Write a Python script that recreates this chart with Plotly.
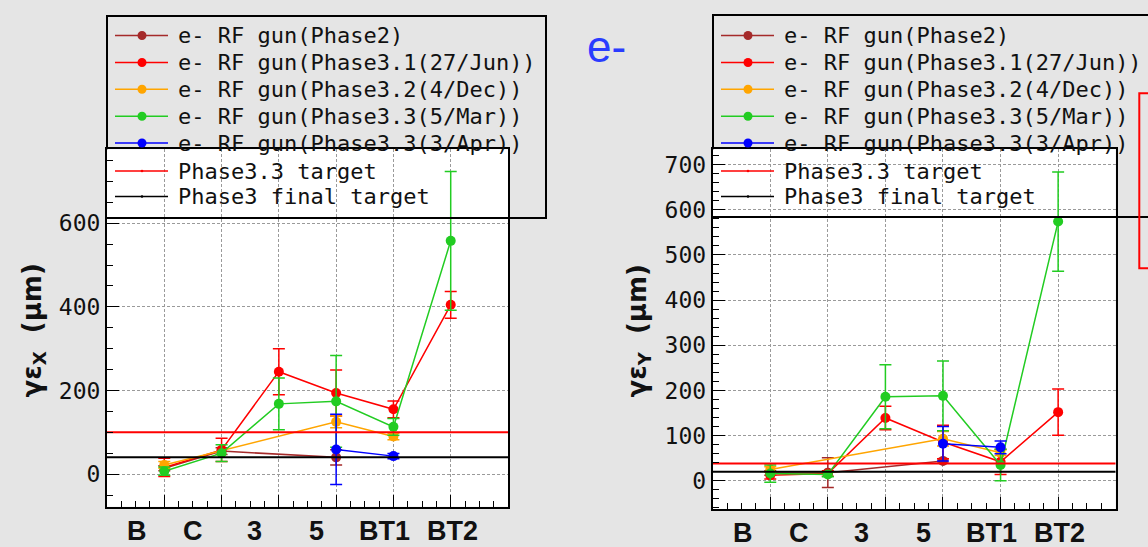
import plotly.graph_objects as go

# ---------------- data ----------------
stations = ["B", "C", "3", "5", "BT1", "BT2"]
station_x = [1, 2, 3, 4, 5, 6]
label_x = [0.52, 1.50, 2.58, 3.66, 4.85, 6.03]

series_names = [
    "e- RF gun(Phase2)",
    "e- RF gun(Phase3.1(27/Jun))",
    "e- RF gun(Phase3.2(4/Dec))",
    "e- RF gun(Phase3.3(5/Mar))",
    "e- RF gun(Phase3.3(3/Apr))",
]
series_colors = ["#a52a2a", "#ff0000", "#ffa500", "#22cc22", "#0000ff"]

# horizontal emittance (um); None = no measurement at that station
ex_phase2 = [14, 55, None, 40, None, None]
ex_phase31 = [16, 58, 245, 194, 155, 405]
ex_phase32 = [22, None, None, 125, 90, None]
ex_phase33_mar = [7, 50, 168, 174, 113, 558]
ex_phase33_apr = [None, None, None, 59, 43, None]

ex_phase2_err = [6, 8, None, 18, None, None]
ex_phase31_err = [22, 28, 55, 55, 20, 32]
ex_phase32_err = [8, None, None, 14, 8, None]
ex_phase33_mar_err = [10, 20, 62, 110, 20, 166]
ex_phase33_apr_err = [None, None, None, 84, 6, None]

# vertical emittance (um)
ey_phase2 = [17, 18, None, 44, None, None]
ey_phase31 = [12, 16, 139, 86, 42, 152]
ey_phase32 = [25, None, None, 93, 62, None]
ey_phase33_mar = [16, 14, 186, 188, 35, 574]
ey_phase33_apr = [None, None, None, 82, 74, None]

ey_phase2_err = [5, 33, None, 5, None, None]
ey_phase31_err = [8, 6, 26, 37, 28, 51]
ey_phase32_err = [6, None, None, 16, 6, None]
ey_phase33_mar_err = [19, 5, 71, 77, 35, 110]
ey_phase33_apr_err = [None, None, None, 38, 14, None]

target_names = ["Phase3.3 target", "Phase3 final target"]
target_colors = ["#ff0000", "#000000"]
ex_targets = [100, 40]
ey_targets = [38, 20]

# ---------------- layout helpers (pixel -> paper) ----------------
W, H = 1148, 547
BG = "#e5e5e5"


def px(x):
    return x / W


def py(y):
    return 1 - y / H


fig = go.Figure()


def add_panel(xa, ya, values, errors, targets):
    for name, color, vals, errs in zip(series_names, series_colors, values, errors):
        xs = [x for x, v in zip(station_x, vals) if v is not None]
        ys = [v for v in vals if v is not None]
        es = [e for v, e in zip(vals, errs) if v is not None]
        fig.add_trace(go.Scatter(
            x=xs, y=ys, mode="lines+markers", name=name, xaxis=xa, yaxis=ya,
            line=dict(color=color, width=1.5),
            marker=dict(color=color, size=10),
            error_y=dict(type="data", array=es, color=color, thickness=1.5, width=6),
            showlegend=False,
        ))
    for name, color, t in zip(target_names, target_colors, targets):
        fig.add_trace(go.Scatter(
            x=[0, 7], y=[t, t], mode="lines", name=name, xaxis=xa, yaxis=ya,
            line=dict(color=color, width=2), showlegend=False,
        ))


add_panel("x", "y",
          [ex_phase2, ex_phase31, ex_phase32, ex_phase33_mar, ex_phase33_apr],
          [ex_phase2_err, ex_phase31_err, ex_phase32_err, ex_phase33_mar_err, ex_phase33_apr_err],
          ex_targets)
add_panel("x2", "y2",
          [ey_phase2, ey_phase31, ey_phase32, ey_phase33_mar, ey_phase33_apr],
          [ey_phase2_err, ey_phase31_err, ey_phase32_err, ey_phase33_mar_err, ey_phase33_apr_err],
          ey_targets)

# plot frames (pixels)
L_FRAME = (107, 508, 149.3, 506.7)
R_FRAME = (712.7, 1115.7, 149.3, 509)

grid = dict(showgrid=True, gridcolor="#9a9a9a", griddash="3px,2px", gridwidth=1)
xcommon = dict(range=[0, 7], tick0=0, dtick=1, ticks="inside", ticklen=12, tickwidth=1.2,
               tickcolor="black", showticklabels=False, showline=True, mirror=True,
               linecolor="black", linewidth=2, zeroline=False,
               minor=dict(dtick=0.25, ticks="inside", ticklen=6, tickcolor="black", showgrid=False),
               **grid)
ycommon = dict(ticks="inside", ticklen=12, tickwidth=1.2, tickcolor="black",
               showline=True, mirror=True, linecolor="black", linewidth=2, zeroline=False,
               tickfont=dict(family="DejaVu Sans Mono", size=23, color="#111"),
               **grid)

fig.update_layout(
    xaxis=dict(domain=[px(L_FRAME[0]), px(L_FRAME[1])], anchor="y", **xcommon),
    yaxis=dict(domain=[py(L_FRAME[3]), py(L_FRAME[2])], anchor="x", range=[-78, 777],
               tick0=0, dtick=200,
               minor=dict(dtick=50, ticks="inside", ticklen=6, tickcolor="black", showgrid=False),
               **ycommon),
    xaxis2=dict(domain=[px(R_FRAME[0]), px(R_FRAME[1])], anchor="y2", **xcommon),
    yaxis2=dict(domain=[py(R_FRAME[3]), py(R_FRAME[2])], anchor="x2", range=[-62.5, 734],
                tick0=0, dtick=100,
                minor=dict(dtick=20, ticks="inside", ticklen=6, tickcolor="black", showgrid=False),
                **ycommon),
)

shapes = []
annotations = []

# legend boxes sit behind the white plot areas
LEG_L = (107, 546, 16, 218)
LEG_R = (713, 1170, 15, 217)
for (x0, x1, y0, y1) in (LEG_L, LEG_R):
    shapes.append(dict(type="rect", xref="paper", yref="paper", layer="below",
                       x0=px(x0), x1=px(x1), y0=py(y1), y1=py(y0),
                       fillcolor=BG, line=dict(color="black", width=2)))
for (x0, x1, y0, y1) in (L_FRAME, R_FRAME):
    shapes.append(dict(type="rect", xref="paper", yref="paper", layer="below",
                       x0=px(x0), x1=px(x1), y0=py(y1), y1=py(y0),
                       fillcolor="white", line=dict(width=0)))
# lower edges of the legend boxes run across the plots
for (x0, x1, y0, y1) in ((LEG_L[0], LEG_L[1], 0, LEG_L[3]), (LEG_R[0], 1148, 0, LEG_R[3])):
    shapes.append(dict(type="line", xref="paper", yref="paper", layer="above",
                       x0=px(x0), x1=px(x1), y0=py(y1), y1=py(y1),
                       line=dict(color="black", width=2)))

# red frame at the right border
shapes.append(dict(type="rect", xref="paper", yref="paper", layer="above",
                   x0=px(1139.3), x1=px(1170), y0=py(268.3), y1=py(93.3),
                   line=dict(color="#ff0000", width=2)))

# legend entries
ROWS = [35.5, 62.5, 89.3, 116.2, 143.0]
TARGET_ROWS = [171.0, 196.5]
mono = dict(family="DejaVu Sans Mono", size=22, color="#111")
for left in (LEG_L[0], LEG_R[0]):
    sx0, sx1, sxm, tx = left + 8, left + 61, left + 35, left + 69
    for y, name, color in zip(ROWS, series_names, series_colors):
        shapes.append(dict(type="line", xref="paper", yref="paper", layer="above",
                           x0=px(sx0), x1=px(sx1), y0=py(y), y1=py(y),
                           line=dict(color=color, width=1.5)))
        shapes.append(dict(type="circle", xref="paper", yref="paper", layer="above",
                           x0=px(sxm - 4.5), x1=px(sxm + 4.5), y0=py(y + 4.5), y1=py(y - 4.5),
                           fillcolor=color, line=dict(width=0)))
        annotations.append(dict(text=name, xref="paper", yref="paper", x=px(tx), y=py(y),
                                xanchor="left", yanchor="middle", showarrow=False, font=mono))
    for y, name, color in zip(TARGET_ROWS, target_names, target_colors):
        shapes.append(dict(type="line", xref="paper", yref="paper", layer="above",
                           x0=px(sx0), x1=px(sx1), y0=py(y), y1=py(y),
                           line=dict(color=color, width=1.5)))
        shapes.append(dict(type="circle", xref="paper", yref="paper", layer="above",
                           x0=px(sxm - 1.3), x1=px(sxm + 1.3), y0=py(y + 1.3), y1=py(y - 1.3),
                           fillcolor=color, line=dict(width=0)))
        annotations.append(dict(text=name, xref="paper", yref="paper", x=px(tx), y=py(y),
                                xanchor="left", yanchor="middle", showarrow=False, font=mono))

# station labels under each axis
for xa, ypix in (("x", 530.5), ("x2", 532.5)):
    for lx, lab in zip(label_x, stations):
        annotations.append(dict(text=lab, xref=xa, yref="paper", x=lx, y=py(ypix),
                                xanchor="center", yanchor="middle", showarrow=False,
                                font=dict(family="Liberation Sans", size=27, color="#111",
                                          weight="bold")))

# axis titles
for xpix, sub in ((32.5, "X"), (637.5, "Y")):
    annotations.append(dict(text="γε<sub>" + sub + "</sub>\u00a0\u00a0(μm)",
                            xref="paper", yref="paper", x=px(xpix), y=py(331),
                            textangle=-90, showarrow=False, xanchor="center", yanchor="middle",
                            font=dict(family="DejaVu Sans", size=26, color="#111",
                                      weight="bold")))

# beam species tag
annotations.append(dict(text="e-", xref="paper", yref="paper", x=px(606), y=py(47),
                        xanchor="center", yanchor="middle", showarrow=False,
                        font=dict(family="Liberation Sans", size=44, color="#2a3cff")))

fig.update_layout(
    width=W, height=H, autosize=False,
    margin=dict(l=0, r=0, t=0, b=0),
    paper_bgcolor=BG, plot_bgcolor="rgba(0,0,0,0)",
    shapes=shapes, annotations=annotations, showlegend=False,
)

fig.write_html("out.html", config={"displayModeBar": False})
